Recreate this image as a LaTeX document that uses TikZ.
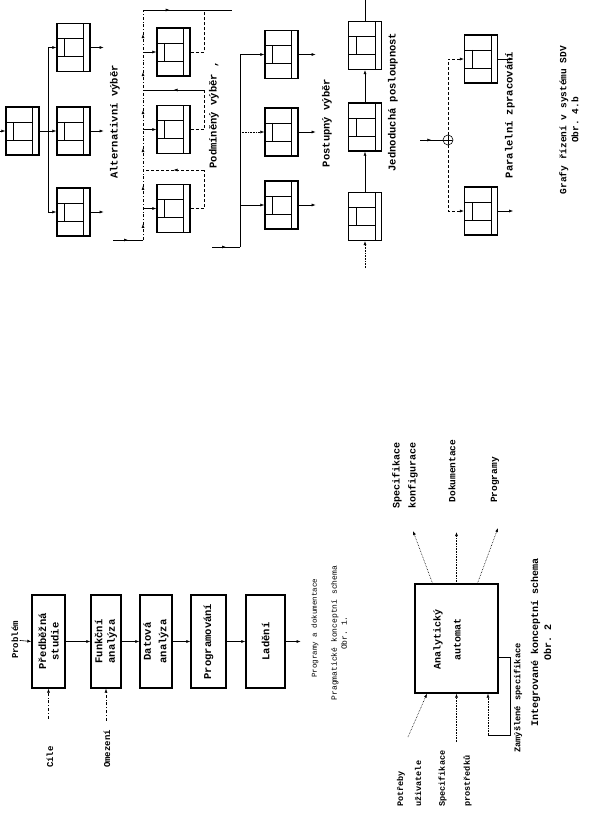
\documentclass[tikz,border=0pt]{standalone}
\usepackage{fontspec}
\setmonofont{Liberation Mono}
\usetikzlibrary{arrows.meta, positioning, decorations.markings}

\begin{document}
\begin{tikzpicture}[
    x=1pt, y=-1pt, semithick,
    unit/.style={
        draw,
        line width=1.3pt,
        minimum width=33pt,
        minimum height=48pt,
        inner sep=0pt,
        path picture={
            \coordinate (uc) at (path picture bounding box.center);
            \draw[line width=0.9pt]
                ([shift={(10pt,24pt)}]uc) -- ([shift={(10pt,-24pt)}]uc)
                ([shift={(-17pt,9pt)}]uc) -- ([shift={(10pt,9pt)}]uc)
                ([shift={(-17pt,-9pt)}]uc) -- ([shift={(10pt,-9pt)}]uc)
                ([shift={(-9pt,9pt)}]uc) -- ([shift={(-9pt,-9pt)}]uc);
        }
    },
    stage/.style={draw, line width=1.3pt, minimum height=93pt, inner sep=0pt},
    fork/.style={
        circle, draw, minimum size=10pt, inner sep=0pt,
        path picture={
            \draw (path picture bounding box.north) -- (path picture bounding box.south)
                  (path picture bounding box.west) -- (path picture bounding box.east);
        }
    },
    lbl/.style={rotate=90, inner sep=1pt, align=center,
        font=\ttfamily\bfseries\fontsize{10.5}{12.5}\selectfont},
    lblm/.style={lbl, font=\ttfamily\bfseries\fontsize{9}{11}\selectfont},
    lbls/.style={lbl, font=\ttfamily\fontsize{8}{10}\selectfont},
    arrow/.style={-{Latex[length=4pt, width=3pt]}},
    midarrow/.style={postaction={decorate}, decoration={markings,
        mark=at position #1 with {\arrow{Latex[length=4pt, width=3pt]}}}},
    midarrow/.default=0.5,
    upmarks/.style={postaction={decorate}, decoration={markings,
        mark=between positions 0.07 and 0.95 step 0.165 with {\arrow{Latex[length=4pt, width=3pt]}}}}
]
\useasboundingbox (0,0) rectangle (591,813);
\fill[white] (0,0) rectangle (591,813);

% Obr. 4.b -- alternativni vyber
\node[unit] (as) at (22.5,131) {};
\node[unit] (a1) at (73.5,47.5) {};
\node[unit] (a2) at (73.5,131) {};
\node[unit] (a3) at (73.5,212) {};
\coordinate (ain) at (0,131);
\coordinate (aj) at (48,131);
\coordinate[right=13pt of a1] (a1o);
\coordinate[right=13pt of a2] (a2o);
\coordinate[right=13pt of a3] (a3o);
\draw[arrow] (ain) -- (as.west);
\draw (as.east) -- (aj);
\draw (aj |- a1.west) -- (aj |- a3.west);
\draw[arrow] (aj |- a1.west) -- (a1.west);
\draw[arrow] (aj |- a2.west) -- (a2.west);
\draw[arrow] (aj |- a3.west) -- (a3.west);
\draw[arrow] (a1.east) -- (a1o);
\draw[arrow] (a2.east) -- (a2o);
\draw[arrow] (a3.east) -- (a3o);
\node[lbl] (alt) at (115,122) {Alternativní výběr};

% podmineny vyber
\node[unit] (p1) at (173.5,52) {};
\node[unit] (p2) at (173.5,129.5) {};
\node[unit] (p3) at (173.5,208.5) {};
\coordinate (pin) at (113,240);
\coordinate (pb) at (143,240);
\coordinate (pt) at (143,10);
\coordinate (pr) at (204,10);
\coordinate (pout) at (232,10);
\coordinate (pl2) at (204,90);
\coordinate (pl3) at (204,170);
\draw[midarrow] (pin) -- (pb);
\draw[dashdotted, upmarks] (pb) -- (pt);
\draw[midarrow=0.3] (pt) -- (pout);
\draw[arrow] (pb |- p1.west) -- (p1.west);
\draw[arrow] (pb |- p2.west) -- (p2.west);
\draw[arrow] (pb |- p3.west) -- (p3.west);
\draw[densely dashed] (p1.east) -| (pr);
\draw[densely dashed] (p2.east) -| (pl2);
\draw[midarrow] (pl2) -- (pl2 -| pb);
\draw[densely dashed] (p3.east) -| (pl3);
\draw[densely dashed, midarrow] (pl3) -- (pl3 -| pb);
\node[lbl] (pod) at (214,115) {Podmíněný výběr ,};

% postupny vyber
\node[unit] (q1) at (281.5,54.5) {};
\node[unit] (q2) at (281.5,132) {};
\node[unit] (q3) at (281.5,205) {};
\coordinate (qin) at (212,247);
\coordinate (qb) at (240,247);
\coordinate[right=17pt of q1] (q1o);
\coordinate[right=17pt of q2] (q2o);
\coordinate[right=17pt of q3] (q3o);
\draw[midarrow] (qin) -- (qb);
\draw (qb) -- (qb |- q1.west);
\draw[arrow] (qb |- q1.west) -- (q1.west);
\draw[arrow, densely dotted] (qb |- q2.west) -- (q2.west);
\draw[arrow] (qb |- q3.west) -- (q3.west);
\draw[arrow] (q1.east) -- (q1o);
\draw[arrow] (q2.east) -- (q2o);
\draw[arrow] (q3.east) -- (q3o);
\node[lbl] (post) at (327,123) {Postupný výběr};

% jednoducha posloupnost
\node[unit] (j1) at (365,216.5) {};
\node[unit] (j2) at (365,127) {};
\node[unit] (j3) at (365,45.5) {};
\coordinate (jin) at (365,268);
\coordinate (jout) at (365,0);
\draw[arrow, densely dotted] (jin) -- (j1.south);
\draw[arrow] (j1.north) -- (j2.south);
\draw[arrow] (j2.north) -- (j3.south);
\draw (j3.north) -- (jout);
\node[lbl] (jed) at (393,102) {Jednoduchá posloupnost};

% paralelni zpracovani
\node[unit] (r1) at (481,59) {};
\node[unit] (r2) at (481,211) {};
\node[fork] (fk) at (448,140) {};
\coordinate (rin) at (420,140);
\coordinate[right=15pt of r1] (r1o);
\coordinate[right=15pt of r2] (r2o);
\draw[midarrow] (rin) -- (fk.west);
\draw[arrow, densely dashed] (fk.north) |- (r1.west);
\draw[arrow, densely dashed] (fk.south) |- (r2.west);
\draw[arrow] (r1.east) -- (r1o);
\draw[arrow] (r2.east) -- (r2o);
\node[lbl] (par) at (510,115) {Paralelní zpracování};

\node[lbl, font=\ttfamily\bfseries\fontsize{9.5}{12}\selectfont] (cap4) at (569,120)
    {Grafy řízení v systému SDV\\Obr. 4.b};

% Obr. 1 -- pragmaticke schema
\node[stage, minimum width=33pt, label={[lbl]center:{Předběžná\\studie}}] (pre) at (48.5,641.5) {};
\node[stage, minimum width=30pt, label={[lbl]center:{Funkční\\analýza}}] (fun) at (106,641.5) {};
\node[stage, minimum width=32pt, label={[lbl]center:{Datová\\[3pt]analýza}}] (dat) at (156,641.5) {};
\node[stage, minimum width=35pt, label={[lbl]center:{Programování}}] (prg) at (208.5,641.5) {};
\node[stage, minimum width=39pt, label={[lbl]center:{Ladění}}] (lad) at (265.5,641.5) {};
\node[lblm] (prob) at (15,640) {Problém};
\coordinate[right=15pt of lad] (ladout);
\coordinate[below=30pt of pre] (cilin);
\coordinate[below=32pt of fun] (omin);
\draw[arrow] (prob) -- (pre.west);
\draw[arrow] (pre.east) -- (fun.west);
\draw[arrow] (fun.east) -- (dat.west);
\draw[arrow] (dat.east) -- (prg.west);
\draw[arrow] (prg.east) -- (lad.west);
\draw[arrow] (lad.east) -- (ladout);
\draw[arrow, dashdotted] (cilin) -- (pre.south);
\draw[arrow, dashdotted] (omin) -- (fun.south);
\node[lblm] (cil) at (50,757) {Cíle};
\node[lblm] (om) at (107,749) {Omezení};
\node[lbl, font=\ttfamily\fontsize{7.5}{9}\selectfont] (pad) at (315,628) {Programy a dokumentace};
\node[lbls] (cap1) at (339,633) {Pragmatické konceptní schema\\Obr. 1.};

% Obr. 2 -- integrovane schema
\node[draw, line width=1.3pt, minimum width=83pt, minimum height=109pt] (aut) at (456.5,638.5) {};
\node[lbl, font=\ttfamily\bfseries\fontsize{10}{12}\selectfont] (autt) at (447,639) {Analytický\\[8pt]automat};
\coordinate (o1) at (413,531);
\coordinate (o2) at (456.5,532);
\coordinate (o3) at (498,528);
\coordinate (i1) at (408,737);
\coordinate (i2) at (456.5,742);
\coordinate (i3) at (488,735);
\coordinate (zb1) at (510,657);
\coordinate (zb2) at (510,735);
\draw[arrow, densely dotted] ([xshift=-24pt]aut.north) -- (o1);
\draw[arrow, densely dotted] (aut.north) -- (o2);
\draw[arrow, densely dotted] ([xshift=21pt]aut.north) -- (o3);
\draw[arrow, densely dotted] (i1) -- ([xshift=-29.5pt]aut.south);
\draw[arrow, densely dotted] (i2) -- (aut.south);
\draw[arrow, densely dotted] (i3) -- ([xshift=31.5pt]aut.south);
\draw (aut.east |- zb1) -- (zb1) -- (zb2) -- (i3);
\node[lbl, align=left, anchor=west, font=\ttfamily\bfseries\fontsize{10}{12}\selectfont] (spk) at (405,510)
    {Specifikace\\[4pt]konfigurace};
\node[lblm, font=\ttfamily\bfseries\fontsize{9.5}{11}\selectfont] (dok) at (452,471) {Dokumentace};
\node[lblm, font=\ttfamily\bfseries\fontsize{9.5}{11}\selectfont] (prgy) at (495,480) {Programy};
\node[lbl, align=left, anchor=west, font=\ttfamily\bfseries\fontsize{8.5}{10}\selectfont] (potr) at (409,808)
    {Potřeby\\[8pt]uživatele};
\node[lbl, align=left, anchor=west, font=\ttfamily\bfseries\fontsize{8.5}{10}\selectfont] (spp) at (455,808)
    {Specifikace\\[15pt]prostředků};
\node[lbl, font=\ttfamily\bfseries\fontsize{8.7}{10}\selectfont] (zam) at (518,698) {Zamýšlené specifikace};
\node[lbl, font=\ttfamily\bfseries\fontsize{10}{13}\selectfont] (cap2) at (541,642)
    {Integrované konceptní schema\\Obr. 2};

\end{tikzpicture}
\end{document}
